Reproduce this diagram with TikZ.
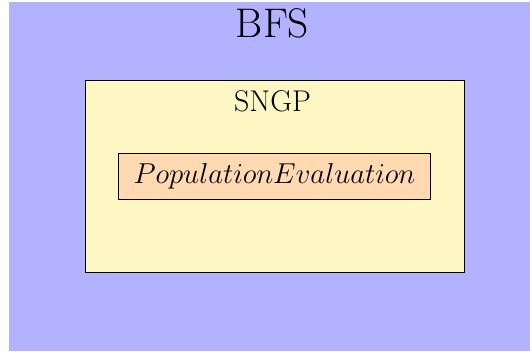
\documentclass[tikz,border=0pt]{standalone}
\usepackage{amsmath}
\usepackage{xcolor}
\usetikzlibrary{shadows}

\definecolor{sngpyellow}{RGB}{254,247,196}

\tikzset{
  box/.style={rectangle, draw=black, inner sep=0pt, line width=0.5pt,
    drop shadow={shadow xshift=0.6pt, shadow yshift=-0.6pt, fill=black, opacity=0.45}},
}

\begin{document}
\begin{tikzpicture}[x=0.5pt, y=-0.5pt]
      \useasboundingbox (0,0) rectangle (530,353);

      \node[rectangle, fill=blue!30, inner sep=0pt, minimum width=260.5pt, minimum height=174.5pt] (bfs) at (269.5,176.5) {};
      \node[box, fill=sngpyellow, minimum width=189.5pt, minimum height=95.5pt] (sngp) at (274.5,176.5) {};
      \node[box, fill=orange!30, minimum width=156pt, minimum height=22.5pt] (popeval) at (274,176.5) {};

      \node[anchor=base, inner sep=0pt, font=\fontsize{20.7}{24}\selectfont] (bfslabel) at (272.5,38) {BFS};
      \node[anchor=base, inner sep=0pt, font=\fontsize{15}{18}\selectfont] (sngplabel) at (272.5,111.5) {SNGP};
      \node[anchor=base, inner sep=0pt, font=\fontsize{15.4}{18}\selectfont] (popevallabel) at (274.5,184) {$PopulationEvaluation$};
    \end{tikzpicture}
\end{document}
